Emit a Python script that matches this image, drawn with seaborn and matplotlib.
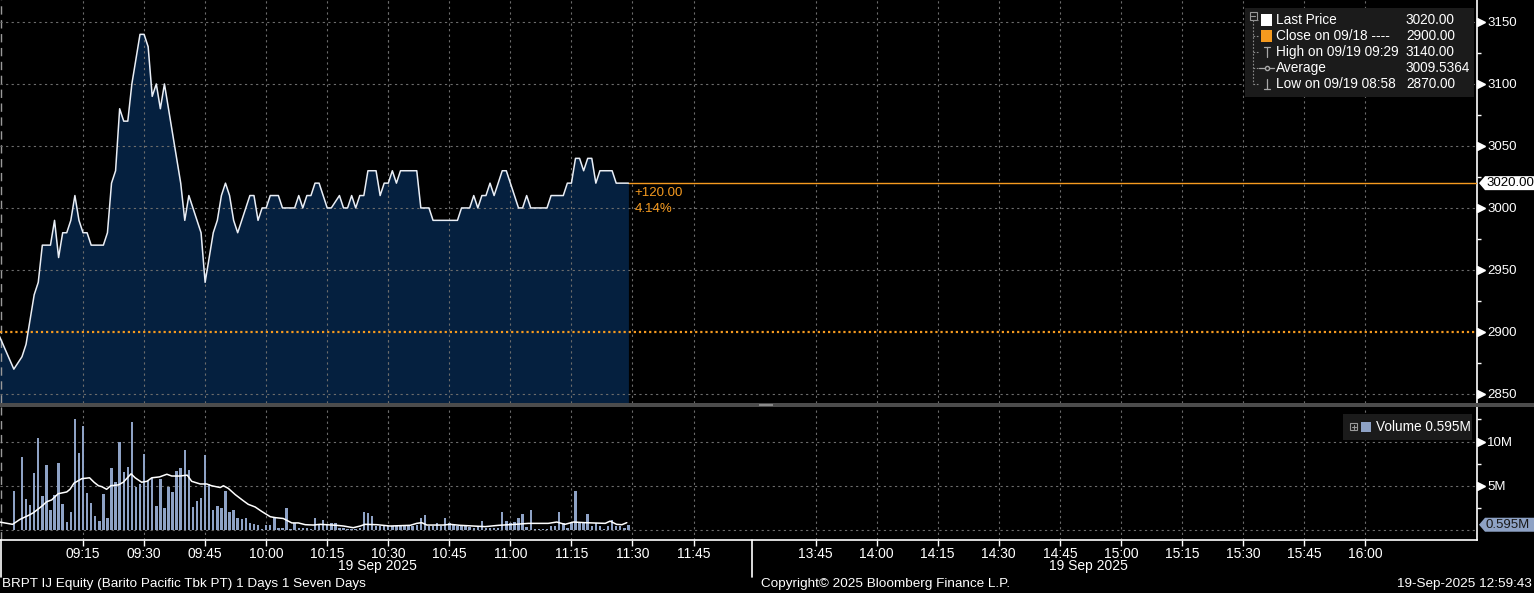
import seaborn as sns
import matplotlib.pyplot as plt
import matplotlib.transforms as mtrans
from matplotlib.patches import Rectangle, Polygon
from matplotlib.lines import Line2D
import numpy as np

# session minutes counted from 08:54, lunch break (12:00 - 13:30) cut out
price_min = [0, 4, 6, 7, 8, 9, 10, 11, 13, 14, 15, 16, 17, 18, 19, 20, 21, 22, 23, 26,
             27, 28, 29, 30, 31, 32, 33, 34, 35, 36, 37, 38, 39, 40, 41, 42, 43, 44, 45, 46,
             47, 48, 49, 50, 51, 52, 53, 54, 55, 56, 57, 58, 59, 60, 61, 62, 63, 64, 65, 66,
             67, 69, 70, 73, 74, 75, 76, 77, 78, 79, 81, 82, 84, 85, 86, 87, 88, 89, 90, 91,
             93, 94, 95, 96, 97, 98, 99, 103, 104, 106, 107, 113, 114, 116, 117, 118, 119, 120, 121, 122,
             124, 125, 126, 127, 128, 129, 130, 131, 135, 136, 139, 140, 141, 142, 143, 144, 145, 146, 147, 148,
             151, 152, 155]
price = [2900, 2870, 2880, 2890, 2910, 2930, 2940, 2970, 2970, 2990, 2960, 2980, 2980, 2990, 3010, 2990, 2980, 2980, 2970, 2970,
         2980, 3020, 3030, 3080, 3070, 3070, 3100, 3120, 3140, 3140, 3130, 3090, 3100, 3080, 3100, 3080, 3060, 3040, 3020, 2990,
         3010, 3000, 2990, 2980, 2940, 2960, 2980, 2990, 3010, 3020, 3010, 2990, 2980, 2990, 3000, 3010, 3010, 2990, 3000, 3000,
         3010, 3010, 3000, 3000, 3010, 3000, 3010, 3010, 3020, 3020, 3000, 3000, 3010, 3000, 3000, 3010, 3000, 3010, 3010, 3030,
         3030, 3010, 3020, 3020, 3030, 3020, 3030, 3030, 3000, 3000, 2990, 2990, 3000, 3000, 3010, 3000, 3010, 3010, 3020, 3010,
         3030, 3030, 3020, 3010, 3000, 3000, 3010, 3000, 3000, 3010, 3010, 3020, 3020, 3040, 3040, 3030, 3040, 3040, 3020, 3030,
         3030, 3020, 3020]

# one bar per minute from 08:54, in millions of shares
volume_m = [0, 0, 0, 0, 4.4, 0, 8.2, 3.5, 2.8, 6.4, 10.4, 3.8, 7.3, 2.3, 4.0, 7.6, 2.9, 0.9, 2.0, 12.6,
            8.7, 11.7, 4.2, 3.0, 1.6, 1.0, 4.1, 1.4, 7.0, 5.4, 9.9, 6.5, 7.1, 12.2, 4.9, 5.2, 8.6, 5.5, 5.9, 2.7,
            5.8, 2.5, 4.9, 4.3, 6.7, 7.0, 9.0, 6.8, 2.6, 3.3, 3.6, 8.5, 5.2, 2.3, 2.7, 2.5, 4.4, 2.0, 2.3, 1.3,
            1.2, 1.3, 0.8, 0.7, 0.6, 0.15, 0.6, 0.6, 1.5, 0.2, 0.2, 2.5, 0.15, 0.8, 0.2, 0.2, 0.2, 0.15, 1.3, 0.6,
            1.1, 0.6, 0.8, 0.75, 0.2, 0.2, 0.15, 0.15, 0.15, 0.2, 2.0, 1.9, 1.6, 0.4, 0.45, 0.6, 0.4, 0.4, 0.4, 0.45,
            0.45, 0.45, 0.45, 0.6, 1.3, 1.65, 0.5, 0.45, 0.8, 0.4, 1.3, 0.75, 0.6, 0.45, 0.4, 0.4, 0.3, 0.2, 0.45, 1.0,
            0.25, 0.2, 0.2, 0.25, 2.0, 1.0, 0.75, 0.9, 1.3, 1.85, 0.35, 2.25, 0.1, 0.1, 0.1, 0.15, 0.45, 0.5, 2.0, 0.75,
            0.2, 0.9, 4.4, 0.8, 0.8, 1.85, 0.5, 0.75, 0.4, 0.15, 0.4, 1.1, 0.5, 0.45, 0.25, 0.595]

avg_min = [0.5, 3.7, 5.5, 7.6, 8.8, 10.9, 12.1, 13.3, 14.9, 17.0, 17.8, 18.8, 20.7, 22.6, 23.7, 24.8, 25.6, 26.8, 27.8, 29.7,
           30.9, 32.8, 33.8, 35.4, 36.7, 37.9, 39.8, 41.6, 42.8, 44.8, 46.6, 47.7, 49.8, 51.4, 52.6, 54.7, 55.5, 56.7, 58.4, 60.4,
           61.6, 63.3, 64.9, 67.0, 68.2, 70.2, 72.3, 73.9, 75.6, 77.6, 79.2, 83.3, 85.0, 87.4, 89.1, 90.3, 93.2, 96.4, 101.4, 103.0,
           104.2, 105.5, 109.5, 111.2, 113.6, 119.8, 123.1, 127.2, 130.4, 135.3, 137.4, 139.4, 141.5, 144.3, 149.3, 150.5, 152.1, 153.4, 154.6]
avg_vol = [0.9, 0.64, 1.2, 1.65, 1.95, 2.7, 3.2, 3.4, 4.1, 4.3, 4.6, 5.3, 5.8, 5.9, 5.4, 5.0, 4.9, 4.6, 5.0, 5.1,
           5.4, 6.35, 5.9, 5.4, 5.5, 5.9, 6.0, 6.3, 6.1, 6.1, 6.2, 5.5, 5.2, 5.2, 5.0, 4.8, 5.0, 4.7, 4.0, 3.3,
           2.9, 2.6, 2.1, 1.5, 1.4, 1.3, 0.8, 0.8, 0.6, 0.56, 0.64, 0.53, 0.45, 0.26, 0.45, 0.64, 0.6, 0.45, 0.53, 0.75,
           0.83, 0.56, 0.56, 0.64, 0.53, 0.38, 0.53, 0.64, 0.75, 0.75, 0.9, 0.64, 0.9, 0.83, 0.75, 1.0, 0.64, 0.6, 0.83]

tick_labels = ['09:15', '09:30', '09:45', '10:00', '10:15', '10:30', '10:45', '11:00', '11:15', '11:30', '11:45',
               '13:45', '14:00', '14:15', '14:30', '14:45', '15:00', '15:15', '15:30', '15:45', '16:00']
price_ticks = [2850, 2900, 2950, 3000, 3050, 3100, 3150]
vol_ticks = [0, 5, 10]
vol_tick_labels = ['', '5M', '10M']
date_label = '19 Sep 2025'

legend_names = ['Last Price', 'Close on 09/18 ----', 'High on 09/19 09:29', 'Average', 'Low on 09/19 08:58']
legend_values = ['3020.00', '2900.00', '3140.00', '3009.5364', '2870.00']
last_price = 3020
prev_close = 2900
change_txt = '+120.00'
change_pct = '4.14%'
last_vol = 0.595

W, H = 1534, 593
NAVY = '#05203f'
BAR = '#8ea2c5'
ORANGE = '#f59a1f'
GRID = '#6c6c6c'


def tm(hhmm):
    h, m = map(int, hhmm.split(':'))
    t = h * 60 + m
    if t < 12 * 60:
        return t - (8 * 60 + 54)
    return 186 + t - (13 * 60 + 30)


def fx(x):
    return x / W


def fy(y):
    return 1 - y / H


sns.set_theme(style='dark', rc={'axes.facecolor': 'black', 'figure.facecolor': 'black',
                                'text.color': 'white', 'xtick.color': 'white', 'ytick.color': 'white'})
plt.rcParams['font.family'] = ['Liberation Sans', 'DejaVu Sans']
plt.rcParams['font.size'] = 10

fig = plt.figure(figsize=(W / 100, H / 100), dpi=100)
ax1 = fig.add_axes([0, fy(403), fx(1477), 403 / H])
ax2 = fig.add_axes([0, fy(540), fx(1477), 133 / H])
x0, x1 = 0.6, 363.5

# price panel
ax1.fill_between(price_min, price, 2800, color=NAVY, lw=0, zorder=1)
sns.lineplot(x=price_min, y=price, ax=ax1, color='#e9eef6', lw=1.1, zorder=5)
ax1.axhline(prev_close, color=ORANGE, lw=1.6, ls=(0, (1, 1.3)), zorder=3)
ax1.plot([price_min[-1], x1], [last_price, last_price], color=ORANGE, lw=1, zorder=3)

# volume panel
vol_x = np.arange(len(volume_m))
sns.barplot(x=vol_x, y=np.array(volume_m) * 1e6, native_scale=True, width=0.6, color=BAR,
            saturation=1, errorbar=None, ax=ax2, zorder=3, edgecolor='none', linewidth=0)
sns.lineplot(x=avg_min, y=np.array(avg_vol) * 1e6, ax=ax2, color='white', lw=1.1, zorder=4)

grid_x = [tm(t) for t in tick_labels] + [tm('12:00')]
for ax in (ax1, ax2):
    for gx in grid_x:
        ax.axvline(gx, color=GRID, lw=0.8, ls=(0, (2, 3)), zorder=2)
    ax.axvline(x0 + 0.25, color='#9a9a9a', lw=1, ls=(0, (6, 4)), zorder=2)
    ax.set_xlim(x0, x1)
    ax.set_xlabel('')
    ax.set_ylabel('')
    for s in ax.spines.values():
        s.set_visible(False)
    ax.spines['right'].set_visible(True)
    ax.spines['right'].set_color('white')
    ax.spines['right'].set_linewidth(1.2)
    ax.yaxis.tick_right()
for gy in price_ticks:
    if gy != prev_close:
        ax1.axhline(gy, color=GRID, lw=0.8, ls=(0, (2, 3)), zorder=2)
for gy in vol_ticks:
    ax2.axhline(gy * 1e6, color=GRID, lw=0.8, ls=(0, (2, 3)), zorder=1)


def tick_arrows(ax, vals):
    tr = mtrans.blended_transform_factory(ax.transAxes, ax.transData)
    ax.plot([1.003] * len(vals), vals, ls='none', marker='>', ms=5.5, color='white',
            transform=tr, clip_on=False, zorder=6)


ax1.set_ylim(2842.7, 3167.7)
ax1.set_yticks(price_ticks)
ax1.set_yticklabels([str(v) for v in price_ticks])
ax1.set_yticks(np.arange(2875, 3175, 50), minor=True)
ax1.tick_params(axis='x', which='both', bottom=False, labelbottom=False)
ax1.tick_params(axis='y', which='major', length=0, pad=7.5, labelsize=9.5, right=True, left=False)
ax1.tick_params(axis='y', which='minor', length=3, width=1, color='white', right=True, left=False)
tick_arrows(ax1, price_ticks)

ax2.set_ylim(-1.13e6, 13.9e6)
ax2.set_yticks([v * 1e6 for v in vol_ticks])
ax2.set_yticklabels(vol_tick_labels)
ax2.set_yticks([2.5e6, 7.5e6, 12.5e6], minor=True)
ax2.tick_params(axis='y', which='major', length=0, pad=7.5, labelsize=9.5, right=True, left=False)
ax2.tick_params(axis='y', which='minor', length=3, width=1, color='white', right=True, left=False)
tick_arrows(ax2, [v * 1e6 for v in vol_ticks[1:]])

ax2.spines['bottom'].set_visible(True)
ax2.spines['bottom'].set_color('white')
ax2.spines['bottom'].set_linewidth(1.2)
ax2.set_xticks([tm(t) for t in tick_labels])
ax2.set_xticklabels(tick_labels)
ax2.tick_params(axis='x', which='major', length=4, width=1, color='white', pad=1,
                labelsize=10, bottom=True)
ax2.tick_params(axis='x', which='minor', bottom=False)

# panel separator and session dividers
fig.patches.append(Rectangle((0, fy(407)), 1, 4 / H, transform=fig.transFigure,
                             fc='#4c4c4c', ec='none'))
fig.patches.append(Rectangle((fx(759), fy(405.5)), 14 / W, 1.5 / H, transform=fig.transFigure,
                             fc='#8a8a8a', ec='none'))
for lx in (0.8, 752):
    fig.lines.append(Line2D([fx(lx), fx(lx)], [fy(540), fy(577)], transform=fig.transFigure,
                            color='white', lw=1.2))

fig.text(fx(377), fy(566), date_label, ha='center', va='center', fontsize=10)
fig.text(fx(1088), fy(566), date_label, ha='center', va='center', fontsize=10)
fig.text(fx(2), fy(584), 'BRPT IJ Equity (Barito Pacific Tbk PT) 1 Days 1 Seven Days',
         ha='left', va='center', fontsize=9.7)
fig.text(fx(761), fy(584), 'Copyright\u00a9 2025 Bloomberg Finance L.P.', ha='left', va='center', fontsize=9.7)
fig.text(fx(1532), fy(584), '19-Sep-2025 12:59:43', ha='right', va='center', fontsize=9.7)

# change labels next to the last price
ax1.annotate(change_txt, xy=(price_min[-1], last_price), xytext=(6, -10), textcoords='offset pixels',
             color=ORANGE, fontsize=9.5, va='center', ha='left')
ax1.annotate(change_pct, xy=(price_min[-1], last_price), xytext=(6, -26), textcoords='offset pixels',
             color=ORANGE, fontsize=9.5, va='center', ha='left')


def tag(ax, value, text, fc, tc):
    y = H - ax.transData.transform((x0, value))[1]
    pts = [(1479, y), (1485, y - 7), (1534, y - 7), (1534, y + 7), (1485, y + 7)]
    fig.patches.append(Polygon([(fx(a), fy(b)) for a, b in pts], closed=True,
                               transform=fig.transFigure, fc=fc, ec='none', zorder=8))
    fig.text(fx(1486), fy(y), text, color=tc, fontsize=9.5, va='center', ha='left', zorder=9)


tag(ax1, last_price, f'{last_price:.2f}', 'white', 'black')
tag(ax2, last_vol * 1e6, f'{last_vol}M', BAR, '#1a1a1a')

# legend of the price panel
fig.patches.append(Rectangle((fx(1245), fy(97)), 229 / W, 89 / H, transform=fig.transFigure,
                             fc='#1b1b1b', ec='none'))
rows = [20, 36, 52, 68, 84]
for yy, name, val in zip(rows, legend_names, legend_values):
    fig.text(fx(1276), fy(yy), name, color='white', fontsize=9.8, va='center', ha='left')
    fig.text(fx(1406), fy(yy), val, color='white', fontsize=9.8, va='center', ha='left')
    fig.lines.append(Line2D([fx(1253), fx(1259)], [fy(yy), fy(yy)], transform=fig.transFigure,
                            color='#8a8a8a', lw=0.8, ls=(0, (1.5, 1.5))))
fig.lines.append(Line2D([fx(1253), fx(1253)], [fy(20), fy(84)], transform=fig.transFigure,
                        color='#8a8a8a', lw=0.8, ls=(0, (1.5, 1.5))))
fig.patches.append(Rectangle((fx(1249.5), fy(19.5)), 7 / W, 7 / H, transform=fig.transFigure,
                             fc='#1b1b1b', ec='#9a9a9a', lw=0.8))
fig.lines.append(Line2D([fx(1251), fx(1255)], [fy(16), fy(16)], transform=fig.transFigure,
                        color='#9a9a9a', lw=0.8))
fig.patches.append(Rectangle((fx(1261), fy(25.5)), 11 / W, 11 / H, transform=fig.transFigure,
                             fc='white', ec='none'))
fig.patches.append(Rectangle((fx(1261), fy(41.5)), 11 / W, 11 / H, transform=fig.transFigure,
                             fc=ORANGE, ec='none'))
icon = dict(transform=fig.transFigure, color='#a8a8a8', lw=0.9)
fig.lines.append(Line2D([fx(1266.5)] * 2, [fy(47), fy(57)], **icon))
fig.lines.append(Line2D([fx(1263.5), fx(1269.5)], [fy(47)] * 2, **icon))
fig.lines.append(Line2D([fx(1259), fx(1274)], [fy(68)] * 2, **icon))
fig.lines.append(Line2D([fx(1266.5)], [fy(68)], marker='o', ms=3, mfc='#1b1b1b', mec='#a8a8a8',
                        transform=fig.transFigure))
fig.lines.append(Line2D([fx(1266.5)] * 2, [fy(79), fy(89)], **icon))
fig.lines.append(Line2D([fx(1263.5), fx(1269.5)], [fy(89)] * 2, **icon))

# legend of the volume panel
fig.patches.append(Rectangle((fx(1343), fy(440)), 129 / W, 26 / H, transform=fig.transFigure,
                             fc='#1b1b1b', ec='none'))
fig.patches.append(Rectangle((fx(1350), fy(430)), 7 / W, 7 / H, transform=fig.transFigure,
                             fc='#1b1b1b', ec='#9a9a9a', lw=0.8))
fig.lines.append(Line2D([fx(1351.5), fx(1355.5)], [fy(426.5)] * 2, transform=fig.transFigure,
                        color='#9a9a9a', lw=0.8))
fig.lines.append(Line2D([fx(1353.5)] * 2, [fy(424.5), fy(428.5)], transform=fig.transFigure,
                        color='#9a9a9a', lw=0.8))
fig.patches.append(Rectangle((fx(1361), fy(432)), 10 / W, 10 / H, transform=fig.transFigure,
                             fc=BAR, ec='none'))
fig.text(fx(1376), fy(427), f'Volume {last_vol}M', color='white', fontsize=9.8, va='center', ha='left')

fig.savefig('out.png', dpi=100, facecolor='black')
